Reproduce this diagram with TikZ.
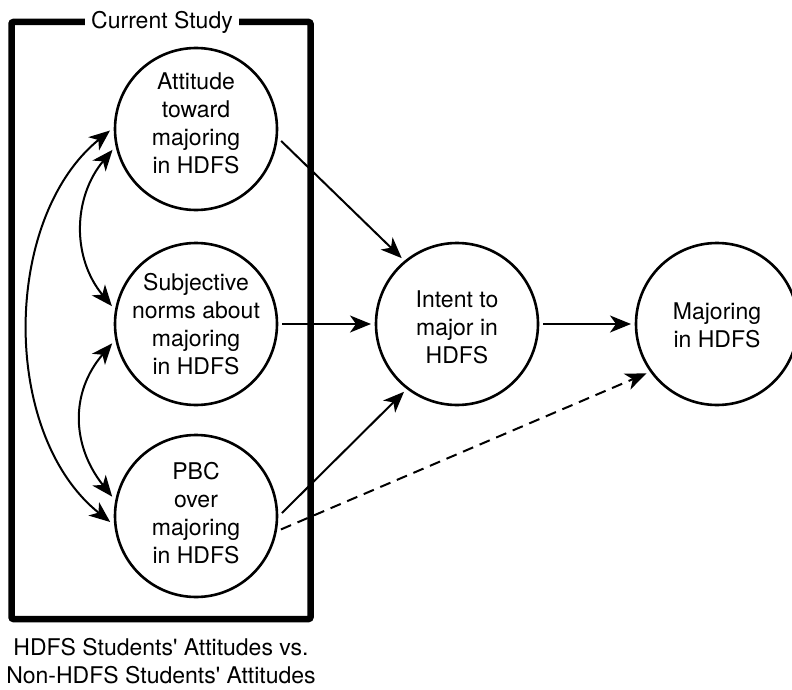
\documentclass[tikz,border=0pt]{standalone}
\usepackage{fontspec}
\setmainfont{TeX Gyre Heros}
\usetikzlibrary{arrows.meta}
\begin{document}
\begin{tikzpicture}[x=1pt,y=-1pt,
  every node/.style={font=\fontsize{23}{28}\selectfont},
  var/.style={circle, draw, line width=2.6pt, minimum size=162pt, inner sep=0pt, outer sep=5pt},
  txt/.style={align=center, font=\fontsize{23}{28}\selectfont},
  arr/.style={line width=2pt, -{Stealth[length=21pt,width=17pt,inset=6pt]}},
  biarr/.style={line width=2pt, {Stealth[length=21pt,width=17pt,inset=6pt]}-{Stealth[length=21pt,width=17pt,inset=6pt]}},
  dasharr/.style={arr, dash pattern=on 11pt off 7pt},
]
\useasboundingbox (0,0) rectangle (792,690);
\draw[line width=6.5pt, rounded corners=2pt] (11.5,22) rectangle (310.5,619);
\node[fill=white, inner xsep=6pt, inner ysep=2pt] (title) at (162,22) {Current Study};

\node[var, label={[txt, yshift=6pt]center:Attitude\\toward\\majoring\\in HDFS}] (att) at (196,129) {};
\node[var, label={[txt]center:Subjective\\norms about\\majoring\\in HDFS}] (subj) at (196,324) {};
\node[var, label={[txt, yshift=3pt]center:PBC\\over\\majoring\\in HDFS}] (pbc) at (196,516) {};
\node[var, label={[txt, yshift=-3pt]center:Intent to\\major in\\HDFS}] (int) at (457,324) {};
\node[var, label={[txt, yshift=-1.5pt]center:Majoring\\in HDFS}] (maj) at (717,324) {};

\node[align=center] (caption) at (161,661) {HDFS Students\textquotesingle{} Attitudes vs.\\Non-HDFS Students\textquotesingle{} Attitudes};

\draw[arr] (att.-8) -- (int.130);
\draw[arr] (subj.east) -- (int.west);
\draw[arr] (pbc.2) -- (int.232);
\draw[dasharr] (pbc.-9) -- (maj.215);
\draw[arr] (int.east) -- (maj.west);

\draw[biarr] (att.181) .. controls +(-108,88) and +(-110,-88) .. (pbc.184);
\draw[biarr] (att.194) .. controls +(-40,48) and +(-40,-48) .. (subj.168);
\draw[biarr] (subj.193) .. controls +(-43,50) and +(-40,-50) .. (pbc.167);
\end{tikzpicture}
\end{document}
